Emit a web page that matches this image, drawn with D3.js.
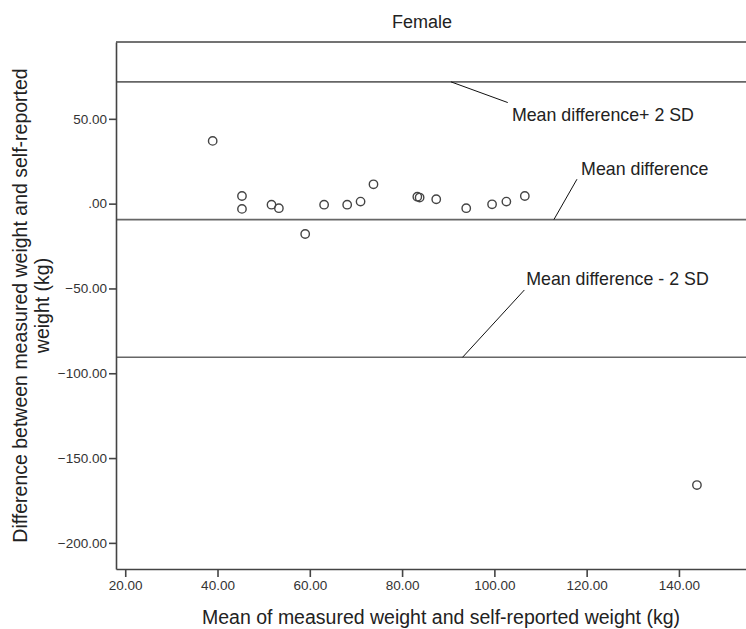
<!DOCTYPE html>
<html>
<head>
<meta charset="utf-8">
<script src="https://cdn.jsdelivr.net/npm/d3@7"></script>
<style>
  body { margin: 0; background: #fff; }
  svg { display: block; font-family: "Liberation Sans", Arial, sans-serif; }
</style>
</head>
<body>
<div id="chart"></div>
<script>
// Bland-Altman values (female group)
var meanWeight = [38.95, 45.3, 45.3, 51.7, 53.3, 59.0, 63.1, 68.1, 71.0, 73.8, 83.3, 83.8, 87.4, 93.9, 99.5, 102.6, 106.6, 143.9];
var weightDiff = [37.0, 4.5, -3.1, -0.6, -2.7, -17.9, -0.6, -0.6, 1.2, 11.4, 4.1, 3.6, 2.6, -2.7, -0.4, 1.2, 4.5, -165.9];

// reference lines: mean +2SD, mean, mean -2SD
var refValues = [71.8, -9.4, -90.6];
var refLabels = ["Mean difference+ 2 SD", "Mean difference", "Mean difference - 2 SD"];

var xTicks = [20, 40, 60, 80, 100, 120, 140];
var yTicks = [50, 0, -50, -100, -150, -200];

// where each leader line leaves its ref line, where it ends, and where the label sits (data units)
var leaderFromX = [90.6, 112.9, 93.1];
var leaderToX = [102.9, 117.9, 106.5];
var leaderToY = [59.6, 14.4, -50.9];
var labelX = [103.8, 118.8, 106.9];
var labelY = [48.9, 16.9, -47.9];

var width = 746, height = 629;
// note: "top" is a read-only global in browsers, so use plot* names
var plotLeft = 116, plotTop = 42, plotBottom = 569, plotRight = 762;

var x = d3.scaleLinear().domain([18, 158]).range([plotLeft, plotRight]);
var y = d3.scaleLinear().domain([-215.4, 95.3]).range([plotBottom, plotTop]);

// SPSS style numbers: ".00", "50.00", "-100.00"
var fmt = function(d) {
  return d3.format(".2f")(d).replace(/^0\./, ".");
};

var svg = d3.select("#chart").append("svg")
  .attr("width", width)
  .attr("height", height);

// title
svg.append("text")
  .attr("x", 422)
  .attr("y", 28)
  .attr("text-anchor", "middle")
  .attr("font-size", "18px")
  .attr("fill", "#222")
  .text("Female");

// top frame line
svg.append("line")
  .attr("x1", plotLeft).attr("x2", plotRight)
  .attr("y1", plotTop).attr("y2", plotTop)
  .attr("stroke", "#444")
  .attr("stroke-width", 1.6);

// reference lines
svg.selectAll(".ref")
  .data(refValues)
  .enter().append("line")
  .attr("class", "ref")
  .attr("x1", plotLeft).attr("x2", plotRight)
  .attr("y1", function(d) { return y(d); })
  .attr("y2", function(d) { return y(d); })
  .attr("stroke", "#666")
  .attr("stroke-width", 1.6);

// leader lines + labels
refValues.forEach(function(v, i) {
  svg.append("line")
    .attr("x1", x(leaderFromX[i])).attr("y1", y(v))
    .attr("x2", x(leaderToX[i])).attr("y2", y(leaderToY[i]))
    .attr("stroke", "#111")
    .attr("stroke-width", 1);
  svg.append("text")
    .attr("x", x(labelX[i]))
    .attr("y", y(labelY[i]))
    .attr("font-size", "17.8px")
    .attr("fill", "#222")
    .text(refLabels[i]);
});

// axes
var yAxis = d3.axisLeft(y).tickValues(yTicks).tickFormat(fmt).tickSize(7).tickPadding(2).tickSizeOuter(0);
var xAxis = d3.axisBottom(x).tickValues(xTicks).tickFormat(fmt).tickSize(8).tickPadding(3).tickSizeOuter(0);

var gy = svg.append("g").attr("transform", "translate(" + plotLeft + ",0)").call(yAxis);
var gx = svg.append("g").attr("transform", "translate(0," + plotBottom + ")").call(xAxis);

[gy, gx].forEach(function(g) {
  g.select(".domain").attr("stroke", "#444").attr("stroke-width", 1.6);
  g.selectAll(".tick line").attr("stroke", "#444").attr("stroke-width", 1.6);
  g.selectAll(".tick text")
    .attr("font-size", "13.5px")
    .attr("font-family", "\"Liberation Sans\", Arial, sans-serif")
    .attr("fill", "#333");
});

// points
svg.selectAll(".pt")
  .data(meanWeight)
  .enter().append("circle")
  .attr("class", "pt")
  .attr("cx", function(d) { return x(d); })
  .attr("cy", function(d, i) { return y(weightDiff[i]); })
  .attr("r", 4.2)
  .attr("fill", "none")
  .attr("stroke", "#444")
  .attr("stroke-width", 1.4);

// axis titles
svg.append("text")
  .attr("x", 441)
  .attr("y", 624)
  .attr("text-anchor", "middle")
  .attr("font-size", "19.5px")
  .attr("fill", "#222")
  .text("Mean of measured weight and self-reported weight (kg)");

var ytitle = svg.append("text")
  .attr("transform", "translate(27," + ((plotTop + plotBottom) / 2) + ") rotate(-90)")
  .attr("text-anchor", "middle")
  .attr("font-size", "19.5px")
  .attr("fill", "#222");
ytitle.append("tspan").attr("x", 0).attr("dy", 0).text("Difference between measured weight and self-reported");
ytitle.append("tspan").attr("x", 0).attr("dy", 22).text("weight (kg)");
</script>
</body>
</html>
